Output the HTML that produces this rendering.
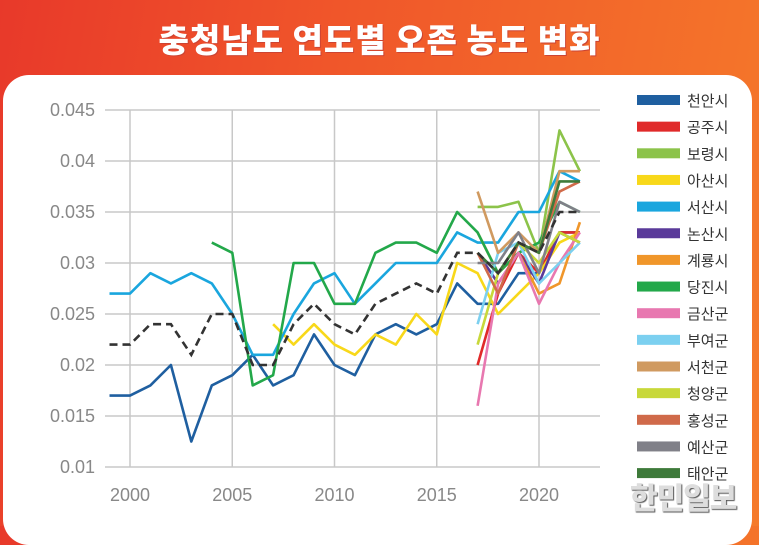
<!DOCTYPE html>
<html><head><meta charset="utf-8"><style>
html,body{margin:0;padding:0;}
body{width:759px;height:526px;overflow:hidden;background:linear-gradient(100deg,#e8392a 0%,#f0562a 40%,#f57a2a 100%);font-family:"Liberation Sans","Noto Sans CJK KR",sans-serif;position:relative;}
#title{position:absolute;left:0;top:14px;width:759px;text-align:center;color:#fff;font-size:33px;font-weight:900;letter-spacing:1px;font-family:"Noto Sans CJK KR","NanumGothic",sans-serif;text-shadow:1px 1px 0 #c43;}
#card{position:absolute;left:3px;top:75px;width:749px;height:470px;background:#fff;border-radius:26px;}
svg{position:absolute;left:0;top:0;}
#wm{position:absolute;left:630px;top:474px;font-size:30px;font-weight:900;color:#ddd;font-family:"Noto Sans CJK KR",sans-serif;text-shadow:1px 1px 1px #555;letter-spacing:-1px;}
</style></head><body>
<div id="title">충청남도 연도별 오존 농도 변화</div>
<div id="card"></div>
<svg id="s" width="759" height="526" font-family="Liberation Sans, Noto Sans CJK KR, sans-serif"></svg>
<div id="wm">한민일보</div>
<script>
const s=document.getElementById('s');
const px=y=>130+20.45*(y-2000), py=v=>110+(0.045-v)*10200;
let h='';
for(let i=0;i<8;i++){const v=0.045-i*0.005,y=py(v);h+=`<line x1="105" x2="600" y1="${y}" y2="${y}" stroke="#c8c8c8" stroke-width="1.5"/><text x="95" y="${y+6}" text-anchor="end" font-size="18" fill="#888">${+v.toFixed(3)}</text>`;}
for(const yr of [2000,2005,2010,2015,2020]){const x=px(yr);h+=`<line x1="${x}" x2="${x}" y1="110" y2="467" stroke="#c8c8c8" stroke-width="1.5"/><text x="${x}" y="501" text-anchor="middle" font-size="18" fill="#888">${yr}</text>`;}
const S=[
['천안시','#1f5fa0',1999,[.017,.017,.018,.020,.0125,.018,.019,.021,.018,.019,.023,.020,.019,.023,.024,.023,.024,.028,.026,.026,.029,.029,.033,.033]],
['공주시','#e02a2a',2017,[.020,.027,.031,.029,.033,.033]],
['보령시','#8cc34a',2017,[.0355,.0355,.036,.031,.043,.039]],
['아산시','#f8d81a',2007,[.024,.022,.024,.022,.021,.023,.022,.025,.023,.030,.029,.025,.027,.029,.032,.033]],
['서산시','#1aa6de',1999,[.027,.027,.029,.028,.029,.028,.025,.021,.021,.025,.028,.029,.026,.028,.030,.030,.030,.033,.032,.032,.035,.035,.039,.038]],
['논산시','#5a3a9a',2017,[.031,.028,.031,.028,.033,.032]],
['계룡시','#f0962a',2017,[.033,.029,.031,.027,.028,.034]],
['당진시','#23a84a',2004,[.032,.031,.018,.019,.030,.030,.026,.026,.031,.032,.032,.031,.035,.033,.029,.031,.032,.036,.035]],
['금산군','#e878b0',2017,[.016,.028,.031,.026,.030,.033]],
['부여군','#7cd0f0',2017,[.024,.031,.032,.028,.030,.032]],
['서천군','#d09a60',2017,[.037,.031,.033,.031,.039,.039]],
['청양군','#c8d83a',2017,[.022,.029,.032,.030,.033,.032]],
['홍성군','#d06a4a',2017,[.031,.027,.032,.031,.037,.038]],
['예산군','#808088',2017,[.030,.030,.033,.029,.036,.035]],
['태안군','#3e7a3a',2017,[.031,.029,.032,.031,.038,.038]]];
S.forEach((d,i)=>{const pts=d[3].map((v,k)=>px(d[2]+k).toFixed(1)+','+py(v).toFixed(1)).join(' ');
h+=`<polyline points="${pts}" fill="none" stroke="${d[1]}" stroke-width="2.6" stroke-linejoin="round"/>`;
const ly=100+i*26.65;h+=`<rect x="637" y="${ly-5}" width="43" height="10" fill="${d[1]}"/><text x="687" y="${ly+6}" font-size="15" fill="#333">${d[0]}</text>`;});
const avg=[.022,.022,.024,.024,.021,.025,.025,.020,.020,.024,.026,.024,.023,.026,.027,.028,.027,.031,.031,.029,.032,.031,.035,.035];
h+=`<polyline points="${avg.map((v,k)=>px(1999+k).toFixed(1)+','+py(v).toFixed(1)).join(' ')}" fill="none" stroke="#333" stroke-width="2.6" stroke-dasharray="8,5"/>`;
s.innerHTML=h;
</script>
</body></html>
